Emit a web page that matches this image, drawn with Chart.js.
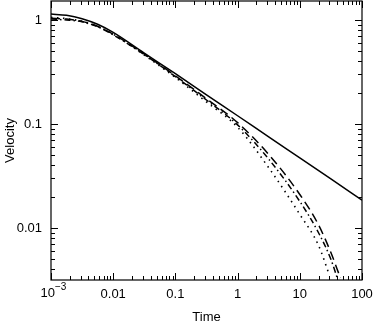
<!DOCTYPE html>
<html>
<head>
<meta charset="utf-8">
<script src="https://cdn.jsdelivr.net/npm/chart.js@4"></script>
<style>
  html, body { margin: 0; padding: 0; background: #fff; }
  #wrap { width: 374px; height: 323px; }
</style>
</head>
<body>
<div id="wrap"><canvas id="chart"></canvas></div>
<script>
// time values (log axis) and velocities
var timeSolid = [0.001, 0.00178, 0.00316, 0.00562, 0.01, 0.0316, 0.1, 0.316, 1, 3.16, 10, 31.6, 100];
var velSolid  = [1.14, 1.11, 1.03, 0.91, 0.76, 0.48, 0.305, 0.191, 0.120, 0.0752, 0.0472, 0.0296, 0.0185];

var timeDash = [0.001, 0.00178, 0.00316, 0.00562, 0.01, 0.0316, 0.1, 0.316, 1, 3.16, 10, 20, 31.6, 45];
var velDash  = [1.04, 1.02, 0.97, 0.87, 0.73, 0.47, 0.29, 0.175, 0.103, 0.051, 0.021, 0.0107, 0.0058, 0.0033];

var timeDashDot = [0.001, 0.00178, 0.00316, 0.00562, 0.01, 0.0316, 0.1, 0.316, 1, 3.16, 10, 20, 31.6, 40];
var velDashDot  = [1.02, 1.00, 0.96, 0.86, 0.72, 0.465, 0.285, 0.17, 0.098, 0.046, 0.018, 0.009, 0.005, 0.0033];

var timeDot = [0.001, 0.00178, 0.00316, 0.00562, 0.01, 0.0316, 0.1, 0.316, 1, 3.16, 10, 20, 30];
var velDot  = [1.06, 1.03, 0.97, 0.87, 0.73, 0.46, 0.28, 0.163, 0.093, 0.038, 0.0135, 0.0068, 0.0035];

var xTickLabels = {'-2': '0.01', '-1': '0.1', '0': '1', '1': '10', '2': '100'};
var yTickLabels = {'-2': '0.01', '-1': '0.1', '0': '1'};

function pts(t, v) {
    return t.map(function(d, i) { return {x: d, y: v[i]}; });
}

function decade(v) {
    var l = Math.log10(v);
    var r = Math.round(l);
    return Math.abs(l - r) < 1e-6 ? String(r) : null;
}

var fam = "'Liberation Sans', Arial, sans-serif";
var font = {family: fam, size: 13};

// frame with inward ticks on all four sides, plus the 10^-3 label
var framePlugin = {
    id: 'frame',
    afterDraw: function(chart) {
        var ctx = chart.ctx, a = chart.chartArea;
        var xs = chart.scales.x, ys = chart.scales.y;
        ctx.save();
        ctx.strokeStyle = '#000';
        ctx.lineWidth = 1.2;
        ctx.strokeRect(a.left, a.top, a.right - a.left, a.bottom - a.top);
        ctx.lineWidth = 1;
        ctx.beginPath();
        for (var e = -4; e <= 2; e++) {
            for (var k = 1; k <= 9; k++) {
                var v = k * Math.pow(10, e);
                var len = k === 1 ? 7 : 4;
                if (v >= xs.min * 0.999 && v <= xs.max * 1.001) {
                    var px = Math.round(xs.getPixelForValue(v)) + 0.5;
                    ctx.moveTo(px, a.bottom); ctx.lineTo(px, a.bottom - len);
                    ctx.moveTo(px, a.top); ctx.lineTo(px, a.top + len);
                }
                if (v >= ys.min && v <= ys.max) {
                    var py = Math.round(ys.getPixelForValue(v)) + 0.5;
                    ctx.moveTo(a.left, py); ctx.lineTo(a.left + len, py);
                    ctx.moveTo(a.right, py); ctx.lineTo(a.right - len, py);
                }
            }
        }
        ctx.stroke();

        // first x label with a real superscript
        var x0 = xs.getPixelForValue(xs.min);
        ctx.fillStyle = '#000';
        ctx.textBaseline = 'middle';
        ctx.font = '13px ' + fam;
        ctx.textAlign = 'right';
        ctx.fillText('10', x0 + 4, 293);
        ctx.font = '10px ' + fam;
        ctx.textAlign = 'left';
        ctx.fillText('\u22123', x0 + 4, 287);
        ctx.restore();
    }
};

new Chart(document.getElementById('chart'), {
    type: 'line',
    data: {
        datasets: [
            {data: pts(timeSolid, velSolid), borderColor: '#000', borderWidth: 1.5},
            {data: pts(timeDash, velDash), borderColor: '#000', borderWidth: 1.5, borderDash: [9, 5]},
            {data: pts(timeDashDot, velDashDot), borderColor: '#000', borderWidth: 1.5, borderDash: [6, 3, 1.5, 3]},
            {data: pts(timeDot, velDot), borderColor: '#000', borderWidth: 1.6, borderDash: [1.5, 4.5]}
        ]
    },
    options: {
        responsive: true,
        maintainAspectRatio: false,
        animation: false,
        layout: {padding: {left: 0, right: 12, top: 1, bottom: 0}},
        elements: {
            point: {radius: 0},
            line: {cubicInterpolationMode: 'monotone', fill: false}
        },
        plugins: {legend: {display: false}, tooltip: {enabled: false}},
        scales: {
            x: {
                type: 'logarithmic',
                min: 0.001,
                max: 100,
                grid: {display: false, drawTicks: false},
                border: {display: false},
                ticks: {
                    autoSkip: false,
                    maxRotation: 0,
                    padding: 7,
                    color: '#000',
                    font: font,
                    callback: function(v) {
                        var d = decade(v);
                        return d !== null && xTickLabels[d] ? xTickLabels[d] : '';
                    }
                },
                title: {display: true, text: 'Time', color: '#000', font: font, padding: {top: 0, bottom: -2}},
                afterFit: function(s) { s.height = 43; s.paddingLeft = 0; s.paddingRight = 0; }
            },
            y: {
                type: 'logarithmic',
                min: 0.00316,
                max: 1.523,
                grid: {display: false, drawTicks: false},
                border: {display: false},
                ticks: {
                    autoSkip: false,
                    padding: 9,
                    color: '#000',
                    font: font,
                    callback: function(v) {
                        var d = decade(v);
                        return d !== null && yTickLabels[d] ? yTickLabels[d] : '';
                    }
                },
                title: {display: true, text: 'Velocity', color: '#000', font: font, padding: {top: 3, bottom: 0}},
                afterFit: function(s) { s.width = 51; s.paddingTop = 0; s.paddingBottom = 0; }
            }
        }
    },
    plugins: [framePlugin]
});
</script>
</body>
</html>
